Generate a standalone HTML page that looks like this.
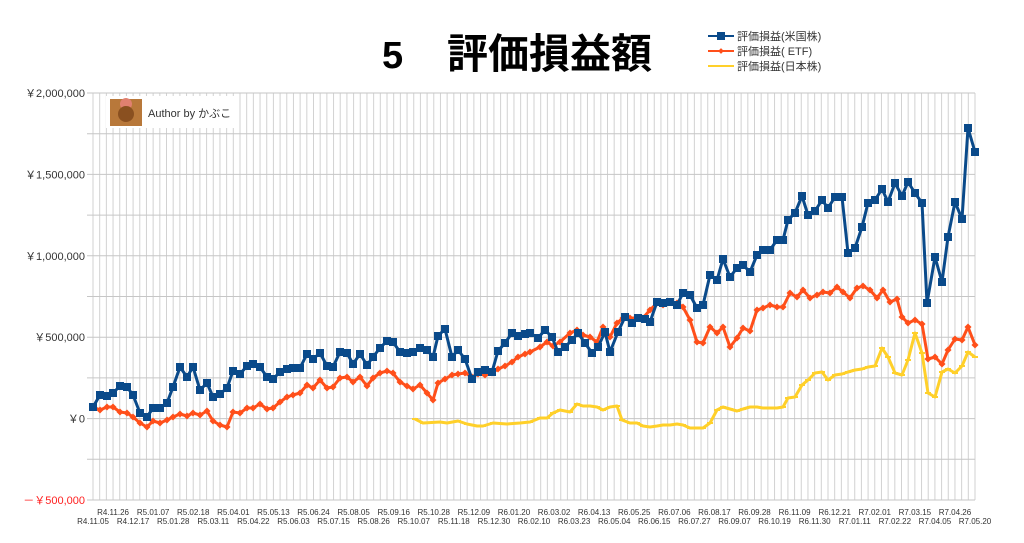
<!DOCTYPE html>
<html><head><meta charset="utf-8"><style>
body{margin:0;background:#fff;width:1024px;height:543px;overflow:hidden}
svg{display:block}
</style></head><body>
<svg id="s" width="1024" height="543" xmlns="http://www.w3.org/2000/svg" font-family="Liberation Sans, Noto Sans CJK JP, sans-serif">
<text x="382" y="68" font-size="38" font-weight="bold" fill="#000">5</text>
<text x="447" y="68" font-size="41" font-weight="bold" fill="#000" font-family="Noto Sans CJK JP, sans-serif">評価損益額</text>
<g id="grid"></g>
<g id="lbl"></g>
<g id="ser"></g>
<rect x="106" y="96" width="128" height="32" fill="#fff"/>
<rect x="110" y="99" width="32" height="27" fill="#b8783a"/>
<circle cx="126" cy="104" r="6" fill="#e08070"/>
<circle cx="126" cy="114" r="8" fill="#8a5020"/>
<text x="148" y="117" font-size="11" fill="#333">Author by かぶこ</text>
<g font-size="11" fill="#333">
<line x1="708" y1="36" x2="734" y2="36" stroke="#0a4a8a" stroke-width="2"/><rect x="717" y="32" width="8" height="8" fill="#0a4a8a"/>
<text x="737" y="40">評価損益(米国株)</text>
<line x1="708" y1="51" x2="734" y2="51" stroke="#ff4f1a" stroke-width="2"/><rect x="719" y="49" width="4" height="4" fill="#ff4f1a" transform="rotate(45 721 51)"/>
<text x="737" y="55">評価損益( ETF)</text>
<line x1="708" y1="66" x2="734" y2="66" stroke="#ffd02a" stroke-width="2"/>
<text x="737" y="70">評価損益(日本株)</text>
</g>
</svg>
<script>
const NS="http://www.w3.org/2000/svg";
function el(p,t,a,txt){const e=document.createElementNS(NS,t);for(const k in a)e.setAttribute(k,a[k]);if(txt!==undefined)e.textContent=txt;p.appendChild(e);return e;}
const g=document.getElementById('grid'),L=document.getElementById('lbl'),S=document.getElementById('ser');
const x0=93,x1=975,y0=93,y1=500,step=(x1-x0)/132;
for(let i=0;i<=132;i++){const x=x0+i*step;el(g,'line',{x1:x,y1:y0,x2:x,y2:y1,stroke:'#d2d2d2','stroke-width':1});}
for(let j=0;j<=10;j++){const y=y0+j*(y1-y0)/10;el(g,'line',{x1:x0-6,y1:y,x2:x1,y2:y,stroke:'#c6c6c6','stroke-width':1});}
const yl=['￥2,000,000','￥1,500,000','￥1,000,000','￥500,000','￥0','－￥500,000'];
yl.forEach((t,j)=>{const y=y0+j*(y1-y0)/5;el(L,'text',{x:85,y:y+4,'text-anchor':'end','font-size':11,fill:j==5?'#ff2020':'#333'},t);});
const r2=['R4.11.05','R4.12.17','R5.01.28','R5.03.11','R5.04.22','R5.06.03','R5.07.15','R5.08.26','R5.10.07','R5.11.18','R5.12.30','R6.02.10','R6.03.23','R6.05.04','R6.06.15','R6.07.27','R6.09.07','R6.10.19','R6.11.30','R7.01.11','R7.02.22','R7.04.05','R7.05.20'];
const r1=['R4.11.26','R5.01.07','R5.02.18','R5.04.01','R5.05.13','R5.06.24','R5.08.05','R5.09.16','R5.10.28','R5.12.09','R6.01.20','R6.03.02','R6.04.13','R6.05.25','R6.07.06','R6.08.17','R6.09.28','R6.11.09','R6.12.21','R7.02.01','R7.03.15','R7.04.26'];
r2.forEach((t,k)=>el(L,'text',{x:x0+6*k*step,y:524,'text-anchor':'middle','font-size':8,fill:'#333'},t));
r1.forEach((t,k)=>el(L,'text',{x:x0+(6*k+3)*step,y:515,'text-anchor':'middle','font-size':8,fill:'#333'},t));
const blue=[[93,407],[100,395],[107,396],[113,393],[120,386],[127,387],[133,395],[140,413],[147,417],[153,408],[160,408],[167,403],[173,387],[180,367],[187,377],[193,367],[200,390],[207,383],[213,397],[220,394],[227,388],[233,371],[240,374],[247,366],[253,364],[260,367],[267,377],[273,379],[280,372],[287,369],[293,368],[300,368],[307,354],[313,359],[320,353],[327,366],[333,367],[340,352],[347,353],[353,364],[360,354],[367,365],[373,357],[380,348],[387,341],[393,342],[400,352],[407,353],[413,352],[420,348],[427,350],[433,357],[438,336],[445,329],[452,357],[458,350],[465,359],[472,379],[478,372],[485,370],[492,372],[498,351],[505,343],[512,333],[518,336],[525,334],[530,333],[538,338],[545,330],[552,337],[558,352],[565,347],[572,340],[578,333],[585,343],[592,353],[598,347],[605,332],[610,352],[618,332],[625,317],[632,323],[638,318],[645,319],[650,322],[657,302],[663,303],[670,302],[677,305],[683,293],[690,295],[697,308],[703,305],[710,275],[717,280],[723,259],[730,277],[737,268],[743,265],[750,272],[757,255],[763,250],[770,250],[777,240],[783,240],[788,220],[795,213],[802,196],[808,215],[815,211],[822,200],[828,208],[835,197],[842,197],[848,253],[855,248],[862,227],[868,203],[875,200],[882,189],[888,202],[895,183],[902,196],[908,182],[915,193],[922,203],[927,303],[935,257],[942,282],[948,237],[955,202],[962,219],[968,128],[975,152]];
const org=[[93,407],[100,410],[107,407],[113,407],[120,412],[127,413],[133,417],[140,423],[147,427],[153,421],[160,423],[167,420],[173,417],[180,414],[187,416],[193,413],[200,415],[207,411],[213,421],[220,425],[227,427],[233,412],[240,413],[247,408],[253,408],[260,404],[267,409],[273,408],[280,402],[287,397],[293,395],[300,393],[307,385],[313,388],[320,380],[327,388],[333,387],[340,378],[347,377],[353,382],[360,377],[367,386],[373,378],[380,373],[387,371],[393,373],[400,382],[407,386],[413,389],[420,385],[427,393],[433,400],[438,383],[445,379],[452,375],[458,374],[465,373],[472,377],[478,374],[485,375],[492,373],[498,369],[505,366],[512,362],[518,357],[525,354],[530,352],[540,347],[547,342],[553,346],[560,342],[570,333],[577,330],[583,335],[590,337],[597,342],[603,327],[610,337],[617,323],[623,318],[630,318],[637,318],[643,318],[650,310],[657,303],[663,305],[670,302],[677,303],[683,307],[690,320],[697,342],[703,343],[710,327],[717,333],[723,327],[730,347],[737,338],[743,328],[750,331],[757,310],[763,308],[770,305],[777,307],[783,307],[790,293],[797,297],[803,290],[810,298],[817,295],[823,292],[830,293],[837,287],[843,292],[850,298],[857,288],[863,286],[870,290],[877,298],[883,290],[890,302],[897,299],[902,317],[908,323],[915,320],[922,324],[928,359],[935,357],[942,364],[948,350],[955,339],[962,340],[968,327],[975,345]];
const yel=[[415,419],[423,423],[440,422],[447,423],[458,421],[467,424],[477,426],[483,426],[493,423],[507,424],[520,423],[530,422],[540,418],[547,418],[553,413],[560,410],[570,412],[577,404],[583,406],[590,406],[597,407],[603,410],[610,407],[617,406],[622,420],[630,423],[637,423],[643,426],[650,427],[657,426],[663,425],[670,425],[677,424],[683,425],[690,428],[697,428],[703,428],[710,423],[717,410],[723,407],[730,409],[737,411],[743,409],[750,407],[757,407],[763,408],[770,408],[777,408],[783,407],[788,398],[795,397],[802,385],[808,380],[815,373],[822,372],[828,380],[835,375],[842,374],[848,372],[855,370],[862,369],[868,367],[875,366],[882,348],[888,357],[895,373],[902,375],[908,360],[915,333],[922,353],[928,393],[935,397],[942,372],[948,369],[955,373],[962,366],[968,352],[975,357]];
function line(p,c,w){el(S,'polyline',{points:p.map(a=>a.join(',')).join(' '),fill:'none',stroke:c,'stroke-width':w,'stroke-linejoin':'round'});}
line(yel,'#ffd02a',3);
yel.forEach(a=>el(S,'rect',{x:a[0]-3,y:a[1]-1,width:6,height:2,fill:'#ffd02a'}));
line(org,'#ff4f1a',3);
org.forEach(a=>el(S,'rect',{x:a[0]-2.5,y:a[1]-2.5,width:5,height:5,fill:'#ff4f1a',transform:`rotate(45 ${a[0]} ${a[1]})`}));
line(blue,'#0a4a8a',3);
blue.forEach(a=>el(S,'rect',{x:a[0]-4,y:a[1]-4,width:8,height:8,fill:'#0a4a8a'}));
</script>
</body></html>
